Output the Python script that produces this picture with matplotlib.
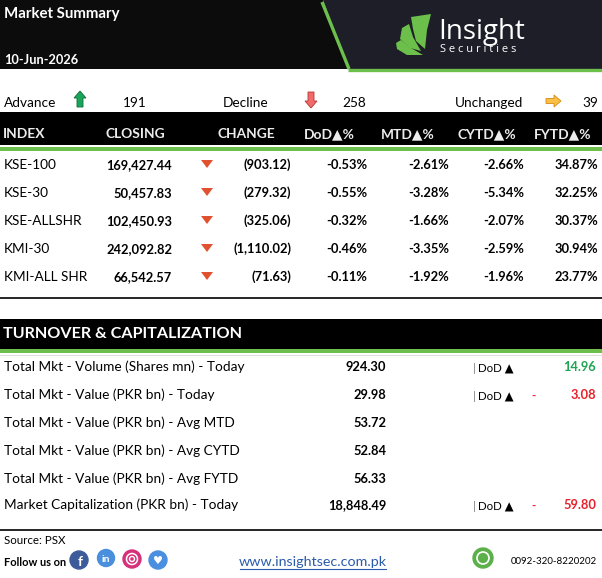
import numpy as np
import matplotlib.pyplot as plt
from matplotlib.patches import Rectangle, Polygon, Circle

plt.rcParams['font.family'] = ['Lato', 'DejaVu Sans']

# ---- data ----
report_date = '10-Jun-2026'
breadth_labels = ['Advance', 'Decline', 'Unchanged']
breadth_counts = [191, 258, 39]

columns = ['INDEX', 'CLOSING', 'CHANGE', 'DoD\u25B2%', 'MTD\u25B2%', 'CYTD\u25B2%', 'FYTD\u25B2%']
indices = ['KSE-100', 'KSE-30', 'KSE-ALLSHR', 'KMI-30', 'KMI-ALL SHR']
closing = [169427.44, 50457.83, 102450.93, 242092.82, 66542.57]
change = [-903.12, -279.32, -325.06, -1110.02, -71.63]
dod = [-0.53, -0.55, -0.32, -0.46, -0.11]
mtd = [-2.61, -3.28, -1.66, -3.35, -1.92]
cytd = [-2.66, -5.34, -2.07, -2.59, -1.96]
fytd = [34.87, 32.25, 30.37, 30.94, 23.77]

turn_labels = ['Total Mkt - Volume (Shares mn) - Today',
               'Total Mkt - Value (PKR bn) - Today',
               'Total Mkt - Value (PKR bn) - Avg MTD',
               'Total Mkt - Value (PKR bn) - Avg CYTD',
               'Total Mkt - Value (PKR bn) - Avg FYTD',
               'Market Capitalization (PKR bn) - Today']
turn_values = [924.30, 29.98, 53.72, 52.84, 56.33, 18848.49]
turn_dod = [14.96, -3.08, None, None, None, -59.80]

GREEN = '#6cbf4b'
FS = 9.8  # regular body text
fig = plt.figure(figsize=(6.02, 5.78), dpi=100)
ax = fig.add_axes([0, 0, 1, 1])
ax.set_xlim(0, 602)
ax.set_ylim(578, 0)
ax.axis('off')

# ---- header ----
ax.add_patch(Polygon([(0, 0), (323, 0), (349, 69), (0, 69)], color='#0c0c0c', lw=0))
ax.add_patch(Polygon([(323, 0), (602, 0), (602, 69), (349, 69)], color='#1d1e28', lw=0))
ax.plot([322, 349], [2, 69], color=GREEN, lw=2.4, solid_capstyle='butt')
ax.plot([348, 602], [69.5, 69.5], color=GREEN, lw=2.4, solid_capstyle='butt')
ax.text(4, 14, 'Market Summary', color='white', fontsize=10.8, fontweight='bold', va='center')
ax.text(4, 60, report_date, color='white', fontsize=9.2, fontweight='bold', va='center')

# logo leaves
leaves = [
    [(411, 17), (431, 14), (427, 30), (425, 49), (416, 41), (413, 29)],
    [(402, 28), (409, 24), (413, 37), (421, 51), (410, 48), (400, 39)],
    [(396, 43), (401, 40), (411, 48), (423, 55), (407, 55), (397, 49)],
]
for lf in leaves:
    ax.add_patch(Polygon(lf, closed=True, color=GREEN, lw=0))
ax.text(438, 32, 'Insight', color='white', fontsize=20, family='Open Sans', va='center')
ax.text(440, 50, 'S e c u r i t i e s', color='white', fontsize=8, family='Open Sans', va='center')

# ---- breadth row ----
yb = 103
ax.text(4, yb, breadth_labels[0], fontsize=FS, va='center')
ax.add_patch(Polygon([(74, 98), (80, 91), (86, 98), (83, 98), (83, 107), (77, 107), (77, 98)],
                     closed=True, facecolor='#1aa65a', edgecolor='#0f6b38', lw=0.6))
ax.text(135, yb, str(breadth_counts[0]), fontsize=FS, va='center', ha='center')
ax.text(223, yb, breadth_labels[1], fontsize=FS, va='center')
ax.add_patch(Polygon([(305, 101), (311, 108), (317, 101), (314, 101), (314, 92), (308, 92), (308, 101)],
                     closed=True, facecolor='#f26b6b', edgecolor='#b83232', lw=0.6))
ax.text(354, yb, str(breadth_counts[1]), fontsize=FS, va='center', ha='center')
ax.text(455, yb, breadth_labels[2], fontsize=FS, va='center')
ax.add_patch(Polygon([(546, 98.5), (554, 98.5), (554, 95), (561, 101), (554, 107), (554, 103.5), (546, 103.5)],
                     closed=True, facecolor='#fbbf45', edgecolor='#d88a12', lw=0.6))
ax.text(598, yb, str(breadth_counts[2]), fontsize=FS, va='center', ha='right')

# ---- index table ----
ax.add_patch(Rectangle((0, 112), 602, 33, color='black', lw=0))
ax.add_patch(Rectangle((0, 147), 602, 4, color=GREEN, lw=0))
head_x = [3, 105, 218, 304, 381, 458, 534]
for hx, name in zip(head_x, columns):
    ax.text(hx, 134, name, color='#ececec', fontsize=9.9, fontweight='bold', va='center')

row_y = 165 + 28 * np.arange(len(indices))
for i, y in enumerate(row_y):
    ax.text(4, y, indices[i], fontsize=FS, va='center')
    ax.text(172, y, f'{closing[i]:,.2f}', fontsize=9.3, fontweight='bold', va='center', ha='right')
    ax.add_patch(Polygon([(201, y - 5), (213, y - 5), (207, y + 3)], closed=True, color='#e0522f', lw=0))
    ch = f'({abs(change[i]):,.2f})' if change[i] < 0 else f'{change[i]:,.2f}'
    ax.text(291, y, ch, fontsize=9.3, fontweight='bold', va='center', ha='right')
    for vx, vals in zip([367, 449, 524, 598], [dod, mtd, cytd, fytd]):
        ax.text(vx, y, f'{vals[i]:.2f}%', fontsize=9.3, fontweight='bold', va='center', ha='right')
ax.plot([0, 602], [298, 298], color='black', lw=1.2)

# ---- turnover section ----
ax.add_patch(Rectangle((0, 319), 602, 30, color='black', lw=0))
ax.add_patch(Rectangle((0, 349), 602, 4, color=GREEN, lw=0))
ax.plot([0, 602], [354.5, 354.5], color='#dddddd', lw=0.8)
ax.text(3, 334, 'TURNOVER & CAPITALIZATION', color='white', fontsize=11.6, fontweight='bold', va='center')

turn_y = [367, 395, 423, 451, 479, 505]
for lab, val, d, y in zip(turn_labels, turn_values, turn_dod, turn_y):
    ax.text(4, y, lab, fontsize=FS, va='center')
    ax.text(386, y, f'{val:,.2f}', fontsize=9.3, fontweight='bold', va='center', ha='right')
    if d is not None:
        ax.text(473, y + 1, '|', fontsize=8.3, va='center', color='#777777')
        ax.text(478, y + 1, 'DoD \u25B2', fontsize=8.3, va='center')
        col = '#21a455' if d >= 0 else '#e8202a'
        if d < 0:
            ax.text(531, y + 1, '-', fontsize=8.5, fontweight='bold', va='center', color=col)
        ax.text(596, y, f'{abs(d):,.2f}', fontsize=9.3, fontweight='bold', va='center', ha='right', color=col)
ax.plot([0, 602], [530, 530], color='black', lw=1.2)

# ---- footer ----
ax.text(4, 541, 'Source: PSX', fontsize=8.3, va='center')
ax.text(4, 562, 'Follow us on', fontsize=7.9, fontweight='bold', va='center')
ax.add_patch(Circle((79, 560), 9, color='#3b5b9a'))
ax.text(80, 562, 'f', color='white', fontsize=10, fontweight='bold', va='center', ha='center')
ax.add_patch(Circle((106, 558), 8.5, color='#4a8fdc'))
ax.text(106, 559, 'in', color='white', fontsize=7.5, fontweight='bold', va='center', ha='center')
ax.add_patch(Circle((132, 559), 9, color='#d6307a'))
ax.add_patch(Circle((132, 559), 5.5, facecolor='none', edgecolor='white', lw=1.1))
ax.add_patch(Circle((132, 559), 2.5, facecolor='none', edgecolor='white', lw=1.0))
ax.add_patch(Circle((158, 560), 9, color='#4a8fe0'))
ax.text(158, 561, '\u2665', color='white', fontsize=8, va='center', ha='center', family='DejaVu Sans')
ax.text(313, 562, 'www.insightsec.com.pk', fontsize=10.3, color='#2a5bab', va='center', ha='center')
ax.plot([240, 386], [569, 569], color='#2a5bab', lw=0.8)
ax.add_patch(Circle((483, 558), 10, color='#5cb04a'))
ax.add_patch(Circle((483, 558), 6, facecolor='none', edgecolor='white', lw=1.2))
ax.text(511, 561, '0092-320-8220202', fontsize=7, va='center')

fig.savefig('out.png', dpi=100)
